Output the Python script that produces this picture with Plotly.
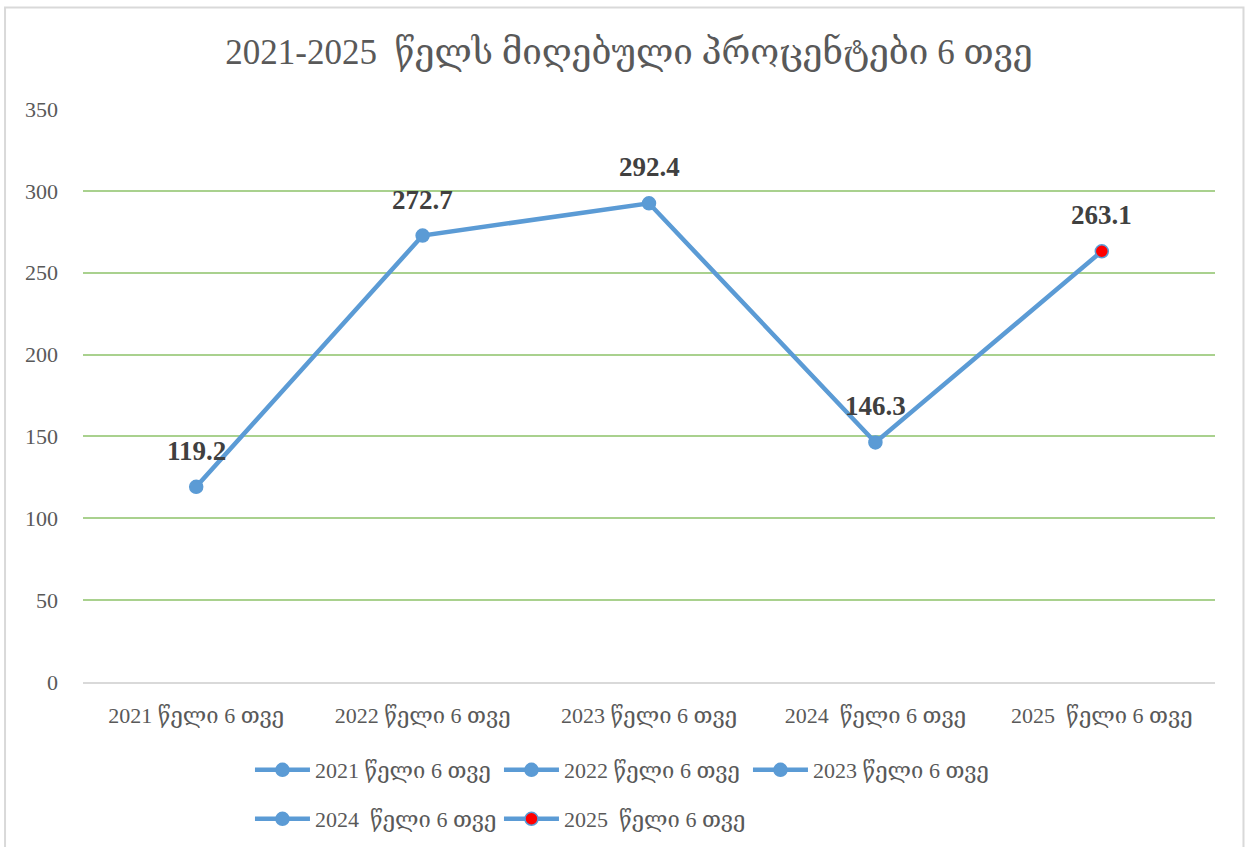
import plotly.graph_objects as go

categories = ["2021 წელი 6 თვე", "2022 წელი 6 თვე", "2023 წელი 6 თვე",
              "2024  წელი 6 თვე", "2025  წელი 6 თვე"]
values = [119.2, 272.7, 292.4, 146.3, 263.1]
marker_fill = ["#5B9BD5", "#5B9BD5", "#5B9BD5", "#5B9BD5", "#FF0000"]
title_text = "2021-2025  წელს მიღებული პროცენტები 6 თვე"

LINE = "#5B9BD5"
FONT = "Liberation Serif, DejaVu Serif, serif"

fig = go.Figure()
fig.add_trace(go.Scatter(x=categories, y=values, mode="lines",
                         line=dict(color=LINE, width=4.5),
                         showlegend=False, hoverinfo="skip"))
for i, (c, v) in enumerate(zip(categories, values)):
    fig.add_trace(go.Scatter(
        x=[c], y=[v], mode="lines+markers", name=c,
        line=dict(color=LINE, width=4.5),
        marker=dict(size=13, color=marker_fill[i], line=dict(color=LINE, width=1.5)),
        legend="legend" if i < 3 else "legend2"))
    fig.add_annotation(x=c, y=v, text=f"<b>{v}</b>", showarrow=False,
                       yshift=36, font=dict(size=27, color="#404040", family=FONT))

fig.update_layout(
    width=1248, height=847,
    margin=dict(l=83, r=33, t=109, b=165, autoexpand=False),
    paper_bgcolor="white", plot_bgcolor="white",
    font=dict(family=FONT, color="#595959", size=22),
    title=dict(text=title_text, x=0.504, xanchor="center", y=0.9386, yanchor="middle",
               font=dict(size=35, color="#595959", family=FONT)),
    xaxis=dict(type="category", range=[-0.5, 4.5], showgrid=False,
               showline=True, linecolor="#D9D9D9", linewidth=1.5,
               ticks="", tickfont=dict(size=22, color="#595959"), ticklabelstandoff=13),
    yaxis=dict(range=[0, 350], dtick=50, showgrid=True, gridcolor="#A9D18E", gridwidth=1.5,
               zeroline=False, showline=False, ticks="",
               tickfont=dict(size=22, color="#595959"), ticklabelstandoff=24),
    legend=dict(orientation="h", x=0.1475, xanchor="left", y=-0.117, yanchor="top",
                font=dict(size=22, color="#595959"), itemwidth=55, entrywidth=179,
                bgcolor="rgba(0,0,0,0)"),
    legend2=dict(orientation="h", x=0.1475, xanchor="left", y=-0.2024, yanchor="top",
                 font=dict(size=22, color="#595959"), itemwidth=55, entrywidth=179,
                 bgcolor="rgba(0,0,0,0)"),
    shapes=[dict(type="rect", xref="paper", yref="paper",
                 x0=(5 - 83) / 1132.5, x1=(1244 - 83) / 1132.5,
                 y0=-0.35, y1=(682 - 7.5) / 573,
                 line=dict(color="#D9D9D9", width=2), fillcolor="rgba(0,0,0,0)", layer="below")],
)

fig.write_html("out.html", config={"displayModeBar": False},
               post_script="document.body.style.margin='0';")
